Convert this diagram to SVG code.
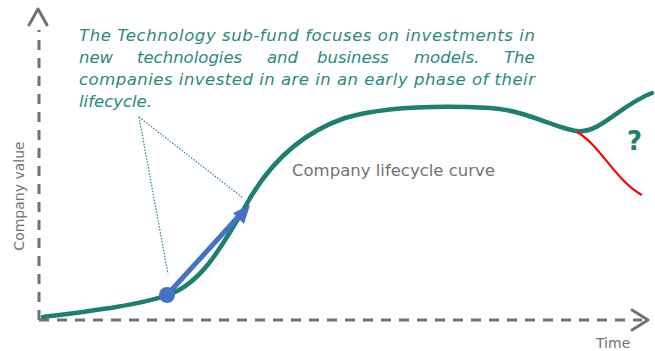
<svg xmlns="http://www.w3.org/2000/svg" width="655" height="351" viewBox="0 0 655 351">
<style>
.axis{stroke:#767171;stroke-width:3;fill:none;stroke-dasharray:10 8}
.axhead{stroke:#767171;stroke-width:3;fill:none;stroke-linecap:round;stroke-linejoin:round}
.note{font-family:"DejaVu Sans",sans-serif;font-style:italic;font-size:16.5px;fill:#2a8a7a}
.lbl{font-family:"DejaVu Sans",sans-serif;fill:#767171}
.dot{stroke:#2a8a7a;stroke-width:1.2;stroke-dasharray:1.5 1.5;fill:none}
</style>
<rect width="655" height="351" fill="#ffffff"/>
<g id="axes">
<path class="axis" d="M39,320 V30"/>
<path class="axhead" d="M29,25 L38,9 L47,25"/>
<path class="axis" d="M39,320 H642"/>
<path class="axhead" d="M632,310 L648,320 L632,330"/>
<text class="lbl" font-size="14" transform="translate(24,196) rotate(-90)" text-anchor="middle">Company value</text>
<text class="lbl" font-size="14" x="596" y="348">Time</text>
</g>
<g id="note">
<text class="note" x="79" y="41" textLength="456" lengthAdjust="spacing">The Technology sub-fund focuses on investments in</text>
<text class="note" y="63"><tspan x="79">new</tspan><tspan x="137">technologies</tspan><tspan x="267">and</tspan><tspan x="317">business</tspan><tspan x="414">models.</tspan><tspan x="504">The</tspan></text>
<text class="note" x="79" y="85" textLength="456" lengthAdjust="spacing">companies invested in are in an early phase of their</text>
<text class="note" x="79" y="107">lifecycle.</text>
</g>
<g id="connectors">
<path class="dot" d="M139,117 L168,274"/>
<path class="dot" d="M139,117 L243,198"/>
</g>
<g id="curve">
<path d="M43,317 C90,311 140,305 168,295 C200,284 220,250 245,207 C265,170 295,135 345,118 C390,105 450,106 490,108 C525,110 555,128 577,131 C600,134 620,105 652,93" fill="none" stroke="#1e7f6e" stroke-width="4.5" stroke-linecap="round"/>
<path d="M577,132 C600,145 615,180 642,195" fill="none" stroke="#ff0000" stroke-width="2.2"/>
<text class="lbl" font-size="16.5" x="292" y="176">Company lifecycle curve</text>
<text x="627" y="150" font-family="DejaVu Sans,sans-serif" font-weight="bold" font-size="26" fill="#1e7f6e">?</text>
</g>
<g id="arrow">
<path d="M167,295 L238,217" stroke="#4472C4" stroke-width="5" fill="none"/>
<path d="M250,205 L233,213 L244,224 Z" fill="#4472C4"/>
<circle cx="167" cy="295" r="8" fill="#4472C4"/>
</g>
</svg>
